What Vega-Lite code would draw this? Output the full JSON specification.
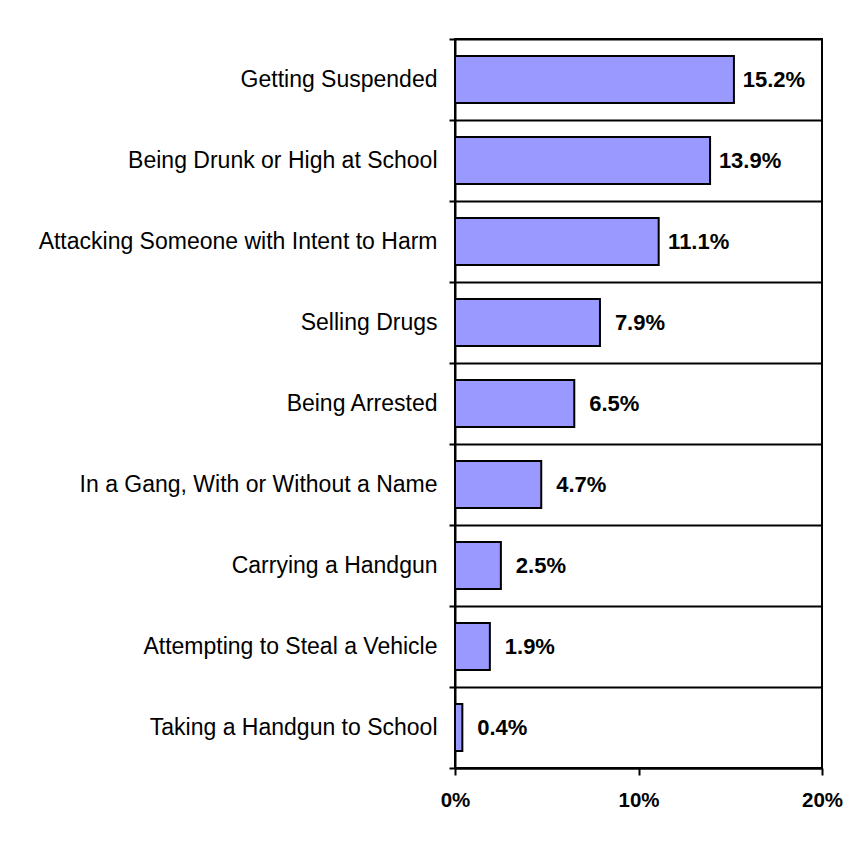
{
  "$schema": "https://vega.github.io/schema/vega-lite/v6.json",
  "width": 367,
  "height": 729,
  "autosize": {"type": "none"},
  "padding": {"left": 455, "top": 39, "right": 24, "bottom": 76},
  "background": "white",
  "config": {
    "view": {"stroke": "black", "strokeWidth": 2},
    "font": "Liberation Sans"
  },
  "data": {
    "values": [
      {"category": "Getting Suspended", "value": 0.152},
      {"category": "Being Drunk or High at School", "value": 0.139},
      {"category": "Attacking Someone with Intent to Harm", "value": 0.111},
      {"category": "Selling Drugs", "value": 0.079},
      {"category": "Being Arrested", "value": 0.065},
      {"category": "In a Gang, With or Without a Name", "value": 0.047},
      {"category": "Carrying a Handgun", "value": 0.025},
      {"category": "Attempting to Steal a Vehicle", "value": 0.019},
      {"category": "Taking a Handgun to School", "value": 0.004}
    ]
  },
  "encoding": {
    "y": {
      "field": "category",
      "type": "nominal",
      "sort": null,
      "scale": {"paddingInner": 0, "paddingOuter": 0},
      "axis": {
        "title": null,
        "tickBand": "extent",
        "grid": true,
        "gridColor": "black",
        "gridWidth": 2,
        "gridOpacity": 1,
        "domainColor": "black",
        "domainWidth": 2,
        "tickColor": "black",
        "tickWidth": 2,
        "tickSize": 6,
        "labelFont": "Liberation Sans",
        "labelFontSize": 23,
        "labelColor": "black",
        "labelPadding": 12,
        "labelLimit": 0
      }
    }
  },
  "layer": [
    {
      "mark": {"type": "bar", "color": "#9999FF", "stroke": "black", "strokeWidth": 2, "height": {"band": 0.58}},
      "encoding": {
        "x": {
          "field": "value",
          "type": "quantitative",
          "scale": {"domain": [0, 0.2], "nice": false},
          "axis": {
            "title": null,
            "values": [0, 0.1, 0.2],
            "format": ".0%",
            "grid": false,
            "domainColor": "black",
            "domainWidth": 2,
            "tickColor": "black",
            "tickWidth": 2,
            "tickSize": 7,
            "labelFont": "Liberation Sans",
            "labelFontSize": 20.5,
            "labelFontWeight": "bold",
            "labelColor": "black",
            "labelPadding": 15,
            "labelFlush": false
          }
        }
      }
    },
    {
      "mark": {"type": "text", "align": "center", "baseline": "middle", "dx": 40, "fontSize": 22, "fontWeight": "bold", "font": "Liberation Sans", "color": "black"},
      "encoding": {
        "x": {"field": "value", "type": "quantitative"},
        "text": {"field": "value", "type": "quantitative", "format": ".1%"}
      }
    }
  ]
}
